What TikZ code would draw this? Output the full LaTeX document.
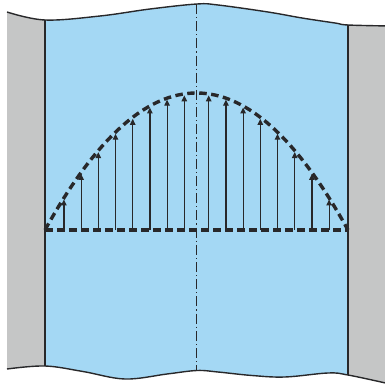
\documentclass[tikz,border=0pt]{standalone}
\usetikzlibrary{arrows.meta}
\definecolor{fluid}{RGB}{164,216,244}
\definecolor{wall}{RGB}{197,198,198}
\definecolor{ink}{RGB}{40,40,42}
\begin{document}
\begin{tikzpicture}[x=1pt,y=-1pt,
  outline/.style={ink,line width=1.4pt},
  profile/.style={ink,line width=3.4pt,dash pattern=on 7.5pt off 4.5pt},
  vel/.style={ink,line width=1.2pt,-{Triangle[length=6pt,width=5.5pt]}},
  axisline/.style={ink,line width=0.9pt,dash pattern=on 10pt off 3pt on 1.2pt off 3pt}]
\useasboundingbox (0,0) rectangle (385,385);
% body clip
\begin{scope}
\clip plot[smooth,tension=0.6] coordinates {(7,12) (45,20) (100,16) (150,9) (197,4) (218,5) (268,12) (302,18) (335,23) (348,25) (390,26)}
  -- plot[smooth,tension=0.6] coordinates {(390,384) (348,375) (328,373) (285,377) (252,375.5) (218,372) (197,370.5) (167,374) (125,379) (83,371.5) (45,366) (7,369)} -- cycle;
\fill[wall] (0,0) rectangle (390,390);
\fill[fluid] (45,0) rectangle (348,390);
\end{scope}
% wall inner edges
\coordinate (lt) at (45,20);
\coordinate (lb) at (45,366);
\coordinate (rt) at (348,25);
\coordinate (rb) at (348,375);
\draw[outline] (lt) -- (lb);
\draw[outline] (rt) -- (rb);
% wavy edges
\draw[outline] plot[smooth,tension=0.6] coordinates {(7,12) (45,20) (100,16) (150,9) (197,4) (218,5) (268,12) (302,18) (335,23) (348,25) (390,26)};
\draw[outline] plot[smooth,tension=0.6] coordinates {(390,384) (348,375) (328,373) (285,377) (252,375.5) (218,372) (197,370.5) (167,374) (125,379) (83,371.5) (45,366) (7,369)};
% centre line
\coordinate (ct) at (196.5,4);
\coordinate (cb) at (196.5,370.5);
\draw[axisline] (ct) -- (cb);
% velocity arrows
\foreach \k in {0,...,7}{
  \pgfmathsetmacro\d{12.2+17.2*\k}
  \pgfmathsetmacro\yt{230-137*(1-(\d/151.5)^2)+1.5}
  \coordinate (al\k) at (196.5-\d,230);
  \coordinate (ar\k) at (196.5+\d,230);
  \coordinate (alt\k) at (196.5-\d,\yt);
  \coordinate (art\k) at (196.5+\d,\yt);
  \draw[vel] (al\k) -- (alt\k);
  \draw[vel] (ar\k) -- (art\k);
}
% profile
\coordinate (p0) at (45,230);
\coordinate (p1) at (348,230);
\draw[profile] (p0) -- (p1);
\draw[profile] plot[domain=45:348,samples=80] (\x,{230-137*(1-((\x-196.5)/151.5)^2)});
\end{tikzpicture}
\end{document}
